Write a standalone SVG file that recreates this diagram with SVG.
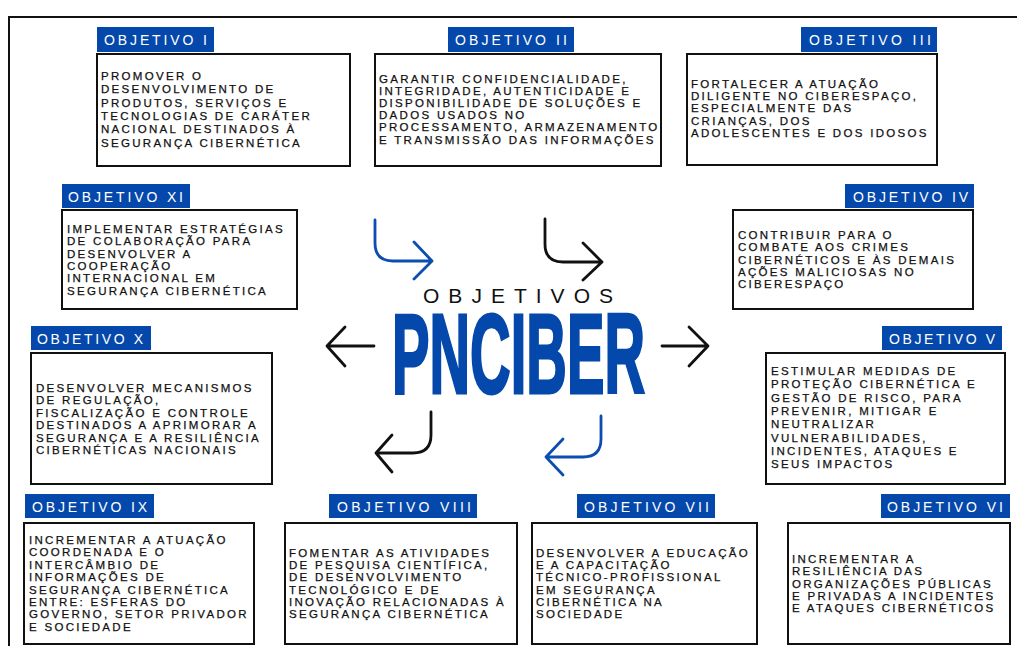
<svg xmlns="http://www.w3.org/2000/svg" width="1017" height="646" viewBox="0 0 1017 646">
<style>
.lbl{fill:#0548ab}
.lt{font-family:"Liberation Sans",Arial,sans-serif;font-size:14px;fill:#fff}
.box{fill:#fff;stroke:#111;stroke-width:2}
.bt{font-family:"Liberation Sans",Arial,sans-serif;font-size:11.5px;letter-spacing:2.3px;fill:#111;stroke:#111;stroke-width:0.25}
.arr{fill:none;stroke-width:2.8;stroke-linecap:round;stroke-linejoin:round}
.blue{stroke:#0b4db0}
.blk{stroke:#111}
</style>
<rect width="1017" height="646" fill="#fff"/>
<path d="M9,646 V17 H1017" fill="none" stroke="#111" stroke-width="2"/>

<g id="obj1">
<rect class="lbl" x="97" y="27" width="117" height="25"/>
<text class="lt" x="104" y="45" textLength="103" lengthAdjust="spacing">OBJETIVO I</text>
<rect class="box" x="97" y="54" width="253" height="112"/>
<text class="bt" x="101" y="80"><tspan x="101">PROMOVER O</tspan><tspan x="101" dy="13.3">DESENVOLVIMENTO DE</tspan><tspan x="101" dy="13.3">PRODUTOS, SERVIÇOS E</tspan><tspan x="101" dy="13.3">TECNOLOGIAS DE CARÁTER</tspan><tspan x="101" dy="13.3">NACIONAL DESTINADOS À</tspan><tspan x="101" dy="13.3">SEGURANÇA CIBERNÉTICA</tspan></text>
</g>

<g id="obj2">
<rect class="lbl" x="448" y="27" width="126" height="25"/>
<text class="lt" x="455" y="45" textLength="112" lengthAdjust="spacing">OBJETIVO II</text>
<rect class="box" x="375" y="54" width="286" height="112"/>
<text class="bt" x="379" y="83"><tspan x="379">GARANTIR CONFIDENCIALIDADE,</tspan><tspan x="379" dy="12.1">INTEGRIDADE, AUTENTICIDADE E</tspan><tspan x="379" dy="12.1">DISPONIBILIDADE DE SOLUÇÕES E</tspan><tspan x="379" dy="12.1">DADOS USADOS NO</tspan><tspan x="379" dy="12.1">PROCESSAMENTO, ARMAZENAMENTO</tspan><tspan x="379" dy="12.1">E TRANSMISSÃO DAS INFORMAÇÕES</tspan></text>
</g>

<g id="obj3">
<rect class="lbl" x="801" y="27" width="136" height="25"/>
<text class="lt" x="809" y="45" textLength="122" lengthAdjust="spacing">OBJETIVO III</text>
<rect class="box" x="687" y="54" width="250" height="111"/>
<text class="bt" x="691" y="88"><tspan x="691">FORTALECER A ATUAÇÃO</tspan><tspan x="691" dy="12.2">DILIGENTE NO CIBERESPAÇO,</tspan><tspan x="691" dy="12.2">ESPECIALMENTE DAS</tspan><tspan x="691" dy="12.2">CRIANÇAS, DOS</tspan><tspan x="691" dy="12.2">ADOLESCENTES E DOS IDOSOS</tspan></text>
</g>

<g id="obj11">
<rect class="lbl" x="62" y="184" width="128" height="24"/>
<text class="lt" x="68" y="202" textLength="115" lengthAdjust="spacing">OBJETIVO XI</text>
<rect class="box" x="62" y="210" width="235" height="99"/>
<text class="bt" x="67" y="233"><tspan x="67">IMPLEMENTAR ESTRATÉGIAS</tspan><tspan x="67" dy="12.3">DE COLABORAÇÃO PARA</tspan><tspan x="67" dy="12.3">DESENVOLVER A</tspan><tspan x="67" dy="12.3">COOPERAÇÃO</tspan><tspan x="67" dy="12.3">INTERNACIONAL EM</tspan><tspan x="67" dy="12.3">SEGURANÇA CIBERNÉTICA</tspan></text>
</g>

<g id="obj4">
<rect class="lbl" x="845" y="184" width="129" height="24"/>
<text class="lt" x="853" y="202" textLength="115" lengthAdjust="spacing">OBJETIVO IV</text>
<rect class="box" x="733" y="210" width="240" height="99"/>
<text class="bt" x="738" y="239"><tspan x="738">CONTRIBUIR PARA O</tspan><tspan x="738" dy="12.3">COMBATE AOS CRIMES</tspan><tspan x="738" dy="12.3">CIBERNÉTICOS E ÀS DEMAIS</tspan><tspan x="738" dy="12.3">AÇÕES MALICIOSAS NO</tspan><tspan x="738" dy="12.3">CIBERESPAÇO</tspan></text>
</g>

<g id="obj10">
<rect class="lbl" x="31" y="326" width="120" height="24"/>
<text class="lt" x="37" y="344" textLength="106" lengthAdjust="spacing">OBJETIVO X</text>
<rect class="box" x="31" y="353" width="241" height="131"/>
<text class="bt" x="36" y="392"><tspan x="36">DESENVOLVER MECANISMOS</tspan><tspan x="36" dy="12.4">DE REGULAÇÃO,</tspan><tspan x="36" dy="12.4">FISCALIZAÇÃO E CONTROLE</tspan><tspan x="36" dy="12.4">DESTINADOS A APRIMORAR A</tspan><tspan x="36" dy="12.4">SEGURANÇA E A RESILIÊNCIA</tspan><tspan x="36" dy="12.4">CIBERNÉTICAS NACIONAIS</tspan></text>
</g>

<g id="obj5">
<rect class="lbl" x="882" y="326" width="120" height="24"/>
<text class="lt" x="889" y="344" textLength="106" lengthAdjust="spacing">OBJETIVO V</text>
<rect class="box" x="766" y="353" width="239" height="131"/>
<text class="bt" x="771" y="375"><tspan x="771">ESTIMULAR MEDIDAS DE</tspan><tspan x="771" dy="13.3">PROTEÇÃO CIBERNÉTICA E</tspan><tspan x="771" dy="13.3">GESTÃO DE RISCO, PARA</tspan><tspan x="771" dy="13.3">PREVENIR, MITIGAR E</tspan><tspan x="771" dy="13.3">NEUTRALIZAR</tspan><tspan x="771" dy="13.3">VULNERABILIDADES,</tspan><tspan x="771" dy="13.3">INCIDENTES, ATAQUES E</tspan><tspan x="771" dy="13.3">SEUS IMPACTOS</tspan></text>
</g>

<g id="obj9">
<rect class="lbl" x="25" y="494" width="129" height="24"/>
<text class="lt" x="32" y="512" textLength="115" lengthAdjust="spacing">OBJETIVO IX</text>
<rect class="box" x="24" y="523" width="230" height="121"/>
<text class="bt" x="29" y="544"><tspan x="29">INCREMENTAR A ATUAÇÃO</tspan><tspan x="29" dy="12.4">COORDENADA E O</tspan><tspan x="29" dy="12.4">INTERCÂMBIO DE</tspan><tspan x="29" dy="12.4">INFORMAÇÕES DE</tspan><tspan x="29" dy="12.4">SEGURANÇA CIBERNÉTICA</tspan><tspan x="29" dy="12.4">ENTRE: ESFERAS DO</tspan><tspan x="29" dy="12.4">GOVERNO, SETOR PRIVADOR</tspan><tspan x="29" dy="12.4">E SOCIEDADE</tspan></text>
</g>

<g id="obj8">
<rect class="lbl" x="329" y="494" width="148" height="24"/>
<text class="lt" x="337" y="512" textLength="134" lengthAdjust="spacing">OBJETIVO VIII</text>
<rect class="box" x="285" y="523" width="232" height="121"/>
<text class="bt" x="289" y="557"><tspan x="289">FOMENTAR AS ATIVIDADES</tspan><tspan x="289" dy="12.2">DE PESQUISA CIENTÍFICA,</tspan><tspan x="289" dy="12.2">DE DESENVOLVIMENTO</tspan><tspan x="289" dy="12.2">TECNOLÓGICO E DE</tspan><tspan x="289" dy="12.2">INOVAÇÃO RELACIONADAS À</tspan><tspan x="289" dy="12.2">SEGURANÇA CIBERNÉTICA</tspan></text>
</g>

<g id="obj7">
<rect class="lbl" x="577" y="494" width="138" height="24"/>
<text class="lt" x="584" y="512" textLength="125" lengthAdjust="spacing">OBJETIVO VII</text>
<rect class="box" x="532" y="523" width="225" height="121"/>
<text class="bt" x="536" y="557"><tspan x="536">DESENVOLVER A EDUCAÇÃO</tspan><tspan x="536" dy="12.2">E A CAPACITAÇÃO</tspan><tspan x="536" dy="12.2">TÉCNICO-PROFISSIONAL</tspan><tspan x="536" dy="12.2">EM SEGURANÇA</tspan><tspan x="536" dy="12.2">CIBERNÉTICA NA</tspan><tspan x="536" dy="12.2">SOCIEDADE</tspan></text>
</g>

<g id="obj6">
<rect class="lbl" x="881" y="494" width="129" height="24"/>
<text class="lt" x="887" y="512" textLength="116" lengthAdjust="spacing">OBJETIVO VI</text>
<rect class="box" x="788" y="523" width="222" height="121"/>
<text class="bt" x="792" y="563"><tspan x="792">INCREMENTAR A</tspan><tspan x="792" dy="12.3">RESILIÊNCIA DAS</tspan><tspan x="792" dy="12.3">ORGANIZAÇÕES PÚBLICAS</tspan><tspan x="792" dy="12.3">E PRIVADAS A INCIDENTES</tspan><tspan x="792" dy="12.3">E ATAQUES CIBERNÉTICOS</tspan></text>
</g>

<g id="center">
<text x="423" y="303" font-family="'Liberation Sans',Arial,sans-serif" font-size="21" fill="#111" textLength="190" lengthAdjust="spacing">OBJETIVOS</text>
<text x="392" y="393" font-family="'Liberation Sans',Arial,sans-serif" font-size="113" font-weight="bold" fill="#0548ab" stroke="#0548ab" stroke-width="3" textLength="253" lengthAdjust="spacingAndGlyphs">PNCIBER</text>
</g>

<g id="connectors">
<path class="arr blue" d="M375,220 V243 Q375,261 393,261 H432 M414,242 L432,261 L414,279"/>
<path class="arr blk" d="M545,219 V244 Q545,262 563,262 H602 M583,243 L602,262 L583,280"/>
<path class="arr blk" d="M374,346 H327 M345,327 L327,346 L345,366"/>
<path class="arr blk" d="M662,346 H708 M689,327 L708,346 L689,366"/>
<path class="arr blk" d="M431,412 V435 Q431,453 413,453 H376 M392,435 L376,453 L392,472"/>
<path class="arr blue" d="M601,416 V439 Q601,457 583,457 H546 M563,439 L546,457 L563,475"/>
</g>
</svg>
